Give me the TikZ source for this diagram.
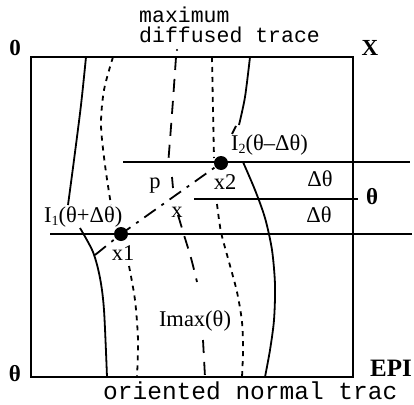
\documentclass[tikz,border=0pt]{standalone}
\usepackage{fontspec}
\setmainfont{Liberation Serif}
\setmonofont{Liberation Mono}
\newcommand{\sbs}[1]{\raisebox{-3pt}{\fontsize{14}{14}\selectfont #1}}
\begin{document}
\begin{tikzpicture}[x=1pt,y=-1pt,
  frame/.style={line width=2.4pt},
  hline/.style={line width=2.2pt},
  solidc/.style={line width=1.8pt},
  dotc/.style={line width=1.8pt, dash pattern=on 5pt off 5pt},
  dashc/.style={line width=1.8pt, dash pattern=on 13pt off 9pt},
  dashdotc/.style={line width=1.8pt, dash pattern=on 14pt off 7pt on 3pt off 7pt},
  lbl/.style={font=\fontsize{22.5}{22.5}\selectfont, inner sep=0pt},
  big/.style={font=\bfseries\fontsize{23}{23}\selectfont, inner sep=0pt},
  mono/.style={font=\ttfamily\fontsize{21.5}{21.5}\selectfont, inner sep=0pt},
  monob/.style={font=\ttfamily\fontsize{24.5}{24.5}\selectfont, inner sep=0pt},
  dotnode/.style={circle, fill, minimum size=14pt, inner sep=0pt}
]
\useasboundingbox (0,0) rectangle (414,404);
\coordinate (TL) at (31,57);
\coordinate (BR) at (353,377);
\draw[frame] (TL) rectangle (BR);

% horizontal lines
\coordinate (ta) at (123,162); \coordinate (tb) at (410,162);
\coordinate (ma) at (194,199); \coordinate (mb) at (358,199);
\coordinate (ba) at (50,234);  \coordinate (bb) at (412,234);
\draw[hline] (ta) -- (tb);
\draw[hline] (ma) -- (mb);
\draw[hline] (ba) -- (bb);

% left solid
\draw[solidc] plot[smooth] coordinates {(86,57) (81,105) (74,160) (68,205)};
\draw[solidc] plot[smooth] coordinates {(80,228) (93,252) (100,278) (104,310) (107,377)};
% left dotted
\draw[dotc] plot[smooth] coordinates {(113,57) (104,90) (101,125) (105,165) (111,205)};
\draw[dotc] plot[smooth] coordinates {(129,266) (135,300) (138,340) (137,377)};
% middle dashed
\fill (177,50) circle (1.2pt);
\draw[dashc] plot[smooth] coordinates {(176,57) (173,100) (170,140) (168,165)};
\draw[solidc] (172,177) -- (173,188);
\draw[dashc] plot[smooth] coordinates {(178,215) (184,235) (191,258) (197,282)};
\draw[dashc] (203,340) -- (205,377);
% right dotted
\draw[dotc] plot[smooth] coordinates {(212,57) (213,110) (214,158)};
\draw[dotc] plot[smooth] coordinates {(217,204) (221,232) (229,262) (237,292) (242,322) (243,350) (242,377)};
% right solid
\draw[solidc] plot[smooth] coordinates {(250,57) (245,97) (239,125)};
\draw[solidc] plot[smooth] coordinates {(243,162) (255,190) (265,218) (272,250) (275,285) (274,320) (270,350) (265,377)};

% dash-dot trace through x1, x, x2
\node[dotnode] (x2) at (221,163) {};
\node[dotnode] (x1) at (121,234) {};
\draw[dashdotc] (95,255) -- (x1.center) -- (x2.center);
\draw[solidc] (232,134) -- (236,126);

% labels
\node[mono, anchor=west] (lmax) at (139,15) {maximum};
\node[mono, anchor=west] (ldif) at (139,35) {diffused trace};
\node[big] (l0) at (15,48) {0};
\node[big] (lX) at (370,48) {X};
\node[big] (lth) at (15,374) {θ};
\node[big, font=\bfseries\fontsize{25}{25}\selectfont] (lepi) at (391,368) {EPI};
\node[monob, anchor=west] (lori) at (103,391) {oriented normal trac};
\node[lbl, anchor=west] (lI2) at (231,145) {I\sbs{2}(θ–Δθ)};
\node[lbl, anchor=west] (lI1) at (44,217) {I\sbs{1}(θ+Δθ)};
\node[lbl] (lx2) at (225,182) {x2};
\node[lbl] (lx1) at (123,253) {x1};
\node[lbl] (lx) at (177,212) {x};
\node[lbl] (lp) at (155,186) {p};
\node[lbl] (ld1) at (320,179) {Δθ};
\node[lbl] (ld2) at (319,215) {Δθ};
\node[big] (lthr) at (372,197) {θ};
\node[lbl] (limax) at (195,321) {Imax(θ)};
\end{tikzpicture}
\end{document}
